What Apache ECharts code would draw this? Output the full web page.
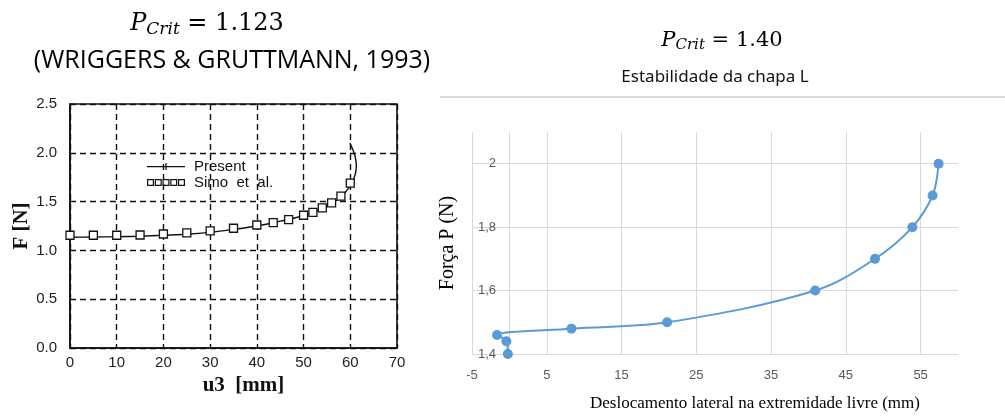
<!DOCTYPE html>
<html><head><meta charset="utf-8">
<script src="https://cdn.jsdelivr.net/npm/echarts@6/dist/echarts.min.js"></script>
<style>html,body{margin:0;padding:0;background:#fff}#c{width:1005px;height:417px}</style>
</head><body><div id="c"></div>
<script>
// Left chart (Wriggers & Gruttmann, 1993)
const simoU3 = [0, 5, 10, 15, 20, 25, 30, 35, 40, 43.5, 46.8, 50, 52, 54, 56, 58, 60];
const simoF  = [1.155, 1.155, 1.155, 1.158, 1.168, 1.18, 1.2, 1.227, 1.26, 1.285, 1.316, 1.36, 1.39, 1.436, 1.487, 1.556, 1.69];
const presentU3 = [0, 5, 10, 15, 20, 25, 30, 35, 40, 45, 50, 53, 56, 58, 60, 61, 61.3, 61, 60.4, 59.9];
const presentF  = [1.135, 1.137, 1.14, 1.145, 1.155, 1.165, 1.185, 1.215, 1.25, 1.3, 1.355, 1.41, 1.48, 1.55, 1.66, 1.77, 1.87, 1.97, 2.05, 2.1];
// Right chart (Estabilidade da chapa L)
const dispMm = [-0.2, -0.4, -1.65, 8.3, 21.1, 40.9, 48.9, 53.9, 56.6, 57.4];
const forceN = [1.40, 1.44, 1.46, 1.48, 1.50, 1.60, 1.70, 1.80, 1.90, 2.00];
// Texts
const leftTitle = ' = 1.123';
const leftSub = '(WRIGGERS & GRUTTMANN, 1993)';
const rightTitle = ' = 1.40';
const rightSub = 'Estabilidade da chapa L';
const legendNames = ['Present', 'Simo  et  al.'];

const zip = (a, b) => a.map((v, i) => [v, b[i]]);
const chart = echarts.init(document.getElementById('c'), null, {renderer: 'canvas'});
const sq = (x) => `M${x},0h7v7h-7z M${x+1.2},1.2v4.6h4.6v-4.6z`;
const simoIcon = 'path://' + [0, 7.75, 15.5, 23.25, 31].map(sq).join(' ');
const presentIcon = 'path://M0,3h38v1.2h-38z M18.4,0h1.2v7h-1.2z';
const mathRich = (fs) => ({
  p: {fontFamily: 'DejaVu Serif', fontStyle: 'italic', fontSize: fs, color: '#000'},
  s: {fontFamily: 'DejaVu Serif', fontStyle: 'italic', fontSize: Math.round(fs * 0.72), color: '#000', padding: [Math.round(fs*0.45), 0, 0, 0]},
  e: {fontFamily: 'DejaVu Serif', fontSize: fs, color: '#000'}
});
const dashGrid = {show: true, lineStyle: {color: '#111', type: [6, 4], width: 1.4}};
const lblL = {color: '#222', fontFamily: 'Liberation Sans', fontSize: 15};
const lblR = {color: '#595959', fontFamily: 'Liberation Sans', fontSize: 13};
const fmtComma = v => String(Math.round(v * 10) / 10).replace('.', ',');

chart.setOption({
  animation: false,
  graphic: [
    {type: 'text', x: 207, y: 24, style: {text: '{p|P}{s|Crit}{e|' + leftTitle + '}', rich: mathRich(24), textAlign: 'center', textVerticalAlign: 'middle'}},
    {type: 'text', x: 232, y: 61, style: {text: leftSub, fontFamily: 'Open Sans', fontSize: 25, fill: '#000', textAlign: 'center', textVerticalAlign: 'middle'}},
    {type: 'text', x: 722, y: 41, style: {text: '{p|P}{s|Crit}{e|' + rightTitle + '}', rich: mathRich(21), textAlign: 'center', textVerticalAlign: 'middle'}},
    {type: 'text', x: 715, y: 77, style: {text: rightSub, fontFamily: 'Noto Sans', fontSize: 17, fill: '#111', textAlign: 'center', textVerticalAlign: 'middle'}},
    {type: 'line', shape: {x1: 440, y1: 97, x2: 1005, y2: 97}, style: {stroke: '#d9d9d9', lineWidth: 2}}
  ],
  legend: {
    orient: 'vertical', left: 147, top: 159, padding: 0, itemWidth: 38, itemHeight: 7, itemGap: 1,
    textStyle: {fontFamily: 'Liberation Sans', fontSize: 15, color: '#111', padding: [0, 0, 0, 4]},
    data: [
      {name: legendNames[0], icon: presentIcon, itemStyle: {color: '#111', borderWidth: 0}},
      {name: legendNames[1], icon: simoIcon, itemStyle: {color: '#111', borderWidth: 0}}
    ]
  },
  grid: [
    {left: 70, top: 104, width: 327, height: 244, show: true, borderColor: '#111', borderWidth: 1.6, backgroundColor: 'transparent'},
    {left: 472, top: 132, width: 486, height: 224}
  ],
  xAxis: [
    {gridIndex: 0, type: 'value', min: 0, max: 70, interval: 10,
      axisLine: {show: true, lineStyle: {color: '#111', width: 1.6}}, axisTick: {show: false},
      axisLabel: Object.assign({margin: 7}, lblL), splitLine: dashGrid,
      name: 'u3  [mm]', nameLocation: 'middle', nameGap: 24,
      nameTextStyle: {fontFamily: 'Liberation Serif', fontWeight: 'bold', fontSize: 21, color: '#111', padding: [0, 0, 0, 20]}},
    {gridIndex: 1, type: 'value', min: -5, max: 60, interval: 10,
      axisLine: {show: true, onZero: false, lineStyle: {color: '#d9d9d9', width: 1}}, axisTick: {show: false},
      axisLabel: Object.assign({margin: 15, showMaxLabel: false}, lblR),
      splitLine: {show: true, showMaxLine: false, lineStyle: {color: '#d9d9d9', width: 1}},
      name: 'Deslocamento lateral na extremidade livre (mm)', nameLocation: 'middle', nameGap: 41,
      nameTextStyle: {fontFamily: 'Liberation Serif', fontSize: 17, color: '#000', padding: [0, 0, 0, 80]}}
  ],
  yAxis: [
    {gridIndex: 0, type: 'value', min: 0, max: 2.5, interval: 0.5,
      axisLine: {show: true, lineStyle: {color: '#111', width: 1.6}}, axisTick: {show: false},
      axisLabel: Object.assign({margin: 13, formatter: v => v.toFixed(1)}, lblL), splitLine: dashGrid,
      name: 'F [N]', nameLocation: 'middle', nameGap: 38,
      nameTextStyle: {fontFamily: 'Liberation Serif', fontWeight: 'bold', fontSize: 21, color: '#111'}},
    {gridIndex: 1, type: 'value', min: 1.4, max: 2.1, interval: 0.2, offset: -37,
      axisLine: {show: true, onZero: false, lineStyle: {color: '#d9d9d9', width: 1}}, axisTick: {show: false},
      axisLabel: Object.assign({margin: 13, showMaxLabel: false, formatter: fmtComma}, lblR),
      splitLine: {show: true, showMaxLine: false, lineStyle: {color: '#d9d9d9', width: 1}},
      name: 'Força P (N)', nameLocation: 'middle', nameGap: 51,
      nameTextStyle: {fontFamily: 'Liberation Serif', fontSize: 20, color: '#000'}}
  ],
  series: [
    {name: legendNames[0], type: 'line', xAxisIndex: 0, yAxisIndex: 0, data: zip(presentU3, presentF),
      smooth: 0.3, showSymbol: false, symbol: 'none', lineStyle: {color: '#111', width: 1.4}, itemStyle: {color: '#111'}, z: 3},
    {name: legendNames[1], type: 'scatter', xAxisIndex: 0, yAxisIndex: 0, data: zip(simoU3, simoF),
      symbol: 'rect', symbolSize: 8, itemStyle: {color: '#fff', borderColor: '#111', borderWidth: 1.3, opacity: 1}, z: 4},
    {name: 'Chapa L', type: 'line', xAxisIndex: 1, yAxisIndex: 1, data: zip(dispMm, forceN),
      smooth: 0.35, symbol: 'circle', symbolSize: 10, showSymbol: true,
      lineStyle: {color: '#5B9BD5', width: 2}, itemStyle: {color: '#5B9BD5'}}
  ]
});
</script></body></html>
